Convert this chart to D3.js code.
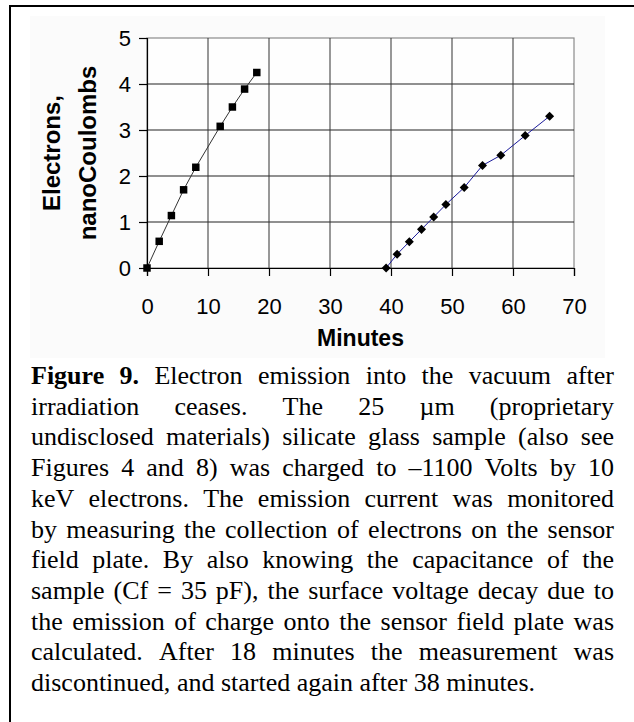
<!DOCTYPE html>
<html>
<head>
<meta charset="utf-8">
<script src="https://cdn.jsdelivr.net/npm/d3@7"></script>
<style>
  html, body { margin: 0; padding: 0; background: #ffffff; }
  svg { display: block; }
</style>
</head>
<body>
<svg id="chart" width="634" height="722"></svg>
<script>
// ---------------- DATA ----------------
const run1Minutes = [0, 2, 4, 6, 8, 12, 14, 16, 18];
const run1Charge  = [0, 0.58, 1.14, 1.70, 2.19, 3.08, 3.50, 3.89, 4.25];
const run2Minutes = [39.2, 41, 43, 45, 47, 49, 52, 55, 58, 62, 66];
const run2Charge  = [0, 0.30, 0.57, 0.84, 1.11, 1.38, 1.75, 2.23, 2.45, 2.88, 3.30];
const xTicks = [0, 10, 20, 30, 40, 50, 60, 70];
const yTicks = [0, 1, 2, 3, 4, 5];
const xTitle = "Minutes";
const yTitleLines = ["Electrons,", "nanoCoulombs"];
const captionLines = [
  [{t:"Figure", b:true}, {t:"9.", b:true}, "Electron", "emission", "into", "the", "vacuum", "after"],
  ["irradiation", "ceases.", "The", "25", "µm", "(proprietary"],
  ["undisclosed", "materials)", "silicate", "glass", "sample", "(also", "see"],
  ["Figures", "4", "and", "8)", "was", "charged", "to", "–1100", "Volts", "by", "10"],
  ["keV", "electrons.", "The", "emission", "current", "was", "monitored"],
  ["by", "measuring", "the", "collection", "of", "electrons", "on", "the", "sensor"],
  ["field", "plate.", "By", "also", "knowing", "the", "capacitance", "of", "the"],
  ["sample", "(Cf", "=", "35", "pF),", "the", "surface", "voltage", "decay", "due", "to"],
  ["the", "emission", "of", "charge", "onto", "the", "sensor", "field", "plate", "was"],
  ["calculated.", "After", "18", "minutes", "the", "measurement", "was"],
  ["discontinued,", "and", "started", "again", "after", "38", "minutes."]
];

// ---------------- LAYOUT ----------------
const svg = d3.select("#chart");
const plot = {left: 147, right: 574, top: 38, bottom: 268};

// outer frame (only top & left visible)
svg.append("rect").attr("x", 10).attr("y", 6).attr("width", 700).attr("height", 800)
  .attr("fill", "none").attr("stroke", "#000").attr("stroke-width", 2);
// chart area background
svg.append("rect").attr("x", 30).attr("y", 16).attr("width", 575).attr("height", 342)
  .attr("fill", "#fbfbfb");

const x = d3.scaleLinear().domain([0, 70]).range([plot.left, plot.right]);
const y = d3.scaleLinear().domain([0, 5]).range([plot.bottom, plot.top]);

// plot area fill + border
svg.append("rect").attr("x", plot.left).attr("y", plot.top)
  .attr("width", plot.right - plot.left).attr("height", plot.bottom - plot.top)
  .attr("fill", "#fefefe").attr("stroke", "#8a8a8a").attr("stroke-width", 1.2);

// gridlines
const grid = svg.append("g");
grid.selectAll("line.h").data(yTicks.filter(d => d > 0 && d < 5)).join("line")
  .attr("x1", plot.left).attr("x2", plot.right)
  .attr("y1", d => y(d)).attr("y2", d => y(d))
  .attr("stroke", "#222").attr("stroke-width", 1);
grid.selectAll("line.v").data(xTicks.filter(d => d > 0 && d < 70)).join("line")
  .attr("y1", plot.top).attr("y2", plot.bottom)
  .attr("x1", d => x(d)).attr("x2", d => x(d))
  .attr("stroke", "#333").attr("stroke-width", 1);

// axes
const xAxis = d3.axisBottom(x).tickValues(xTicks).tickSize(8).tickPadding(22).tickFormat(d3.format("d"));
const yAxis = d3.axisLeft(y).tickValues(yTicks).tickSize(8).tickPadding(8).tickFormat(d3.format("d"));
const gx = svg.append("g").attr("transform", `translate(0,${plot.bottom})`).call(xAxis);
const gy = svg.append("g").attr("transform", `translate(${plot.left},0)`).call(yAxis);
[gx, gy].forEach(g => {
  g.select(".domain").attr("stroke", "#000").attr("stroke-width", 1.2);
  g.selectAll(".tick line").attr("stroke", "#000").attr("stroke-width", 1.2);
  g.selectAll(".tick text").attr("fill", "#000")
    .style("font-family", "Arial, 'Liberation Sans', sans-serif").style("font-size", "22px");
});

// axis titles
svg.append("text").attr("x", (plot.left + plot.right) / 2).attr("y", 346)
  .attr("text-anchor", "middle")
  .style("font-family", "Arial, 'Liberation Sans', sans-serif").style("font-size", "23px")
  .style("font-weight", "bold").text(xTitle);
const yMid = (plot.top + plot.bottom) / 2;
const yTitleX = [60, 96];
yTitleLines.forEach((t, i) => {
  svg.append("text")
    .attr("transform", `translate(${yTitleX[i]},${yMid}) rotate(-90)`)
    .attr("text-anchor", "middle")
    .style("font-family", "Arial, 'Liberation Sans', sans-serif").style("font-size", "24px")
    .style("font-weight", "bold").text(t);
});

// series
const line = d3.line().x(d => x(d[0])).y(d => y(d[1]));
const run1 = run1Minutes.map((m, i) => [m, run1Charge[i]]);
const run2 = run2Minutes.map((m, i) => [m, run2Charge[i]]);
svg.append("path").datum(run1).attr("d", line).attr("fill", "none")
  .attr("stroke", "#333").attr("stroke-width", 1);
svg.append("path").datum(run2).attr("d", line).attr("fill", "none")
  .attr("stroke", "#1a1a9a").attr("stroke-width", 1);
svg.selectAll("path.sq").data(run1).join("path")
  .attr("d", d3.symbol().type(d3.symbolSquare).size(56))
  .attr("transform", d => `translate(${x(d[0])},${y(d[1])})`).attr("fill", "#000");
svg.selectAll("path.dm").data(run2).join("path")
  .attr("d", d3.symbol().type(d3.symbolDiamond2).size(52))
  .attr("transform", d => `translate(${x(d[0])},${y(d[1])})`).attr("fill", "#000");

// caption (justified)
const capLeft = 31, capRight = 614, capTop = 384, capLH = 30.7, capSize = 26;
const capFont = "'Times New Roman', 'Liberation Serif', serif";
const measure = svg.append("text").style("font-family", capFont).style("font-size", capSize + "px");
function wordWidth(w) {
  measure.style("font-weight", w.b ? "bold" : "normal").text(w.t);
  return measure.node().getComputedTextLength();
}
const spaceW = (() => { measure.style("font-weight", "normal").text("a a"); const a = measure.node().getComputedTextLength();
  measure.text("aa"); return a - measure.node().getComputedTextLength(); })();
captionLines.forEach((ln, li) => {
  const words = ln.map(w => typeof w === "string" ? {t: w, b: false} : w);
  const widths = words.map(wordWidth);
  const total = d3.sum(widths);
  const last = li === captionLines.length - 1;
  const gap = last ? spaceW : (capRight - capLeft - total) / (words.length - 1);
  let cx = capLeft;
  const t = svg.append("text").attr("y", capTop + li * capLH)
    .style("font-family", capFont).style("font-size", capSize + "px").attr("fill", "#000");
  words.forEach((w, wi) => {
    t.append("tspan").attr("x", cx).style("font-weight", w.b ? "bold" : "normal").text(w.t);
    cx += widths[wi] + gap;
  });
});
measure.remove();
</script>
</body>
</html>
